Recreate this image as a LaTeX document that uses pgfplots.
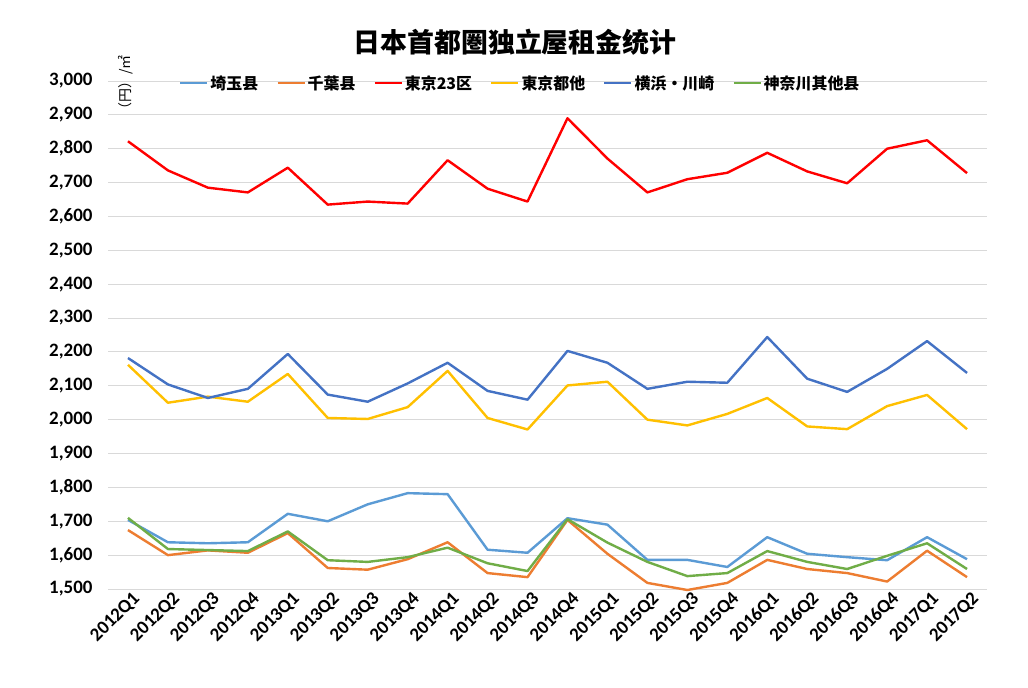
\documentclass[border=0pt]{standalone}
\usepackage{fontspec}
\usepackage{pgfplots}
\pgfplotsset{compat=1.18}
\setmainfont{Carlito}
\newfontfamily\cjk{Noto Sans CJK SC}
\definecolor{cSaitama}{HTML}{5B9BD5}
\definecolor{cChiba}{HTML}{ED7D31}
\definecolor{cTokyo}{HTML}{FF0000}
\definecolor{cTokyoO}{HTML}{FFC000}
\definecolor{cYoko}{HTML}{4472C4}
\definecolor{cKana}{HTML}{70AD47}
\definecolor{gridc}{HTML}{D9D9D9}
\begin{document}
\begin{tikzpicture}
\path[use as bounding box, fill=white] (0,0) rectangle (1028bp,688bp);
\begin{axis}[
  at={(108bp,99bp)}, anchor=south west,
  width=879bp, height=508bp, scale only axis,
  xmin=-0.5, xmax=21.5, ymin=1500, ymax=3000,
  clip=false,
  axis line style={draw=none},
  major tick length=0pt,
  ytick={1500,1600,...,3000},
  ymajorgrids, grid style={gridc, line width=0.9bp},
  xtick={0,...,21},
  xticklabels={2012Q1,2012Q2,2012Q3,2012Q4,2013Q1,2013Q2,2013Q3,2013Q4,2014Q1,2014Q2,2014Q3,2014Q4,2015Q1,2015Q2,2015Q3,2015Q4,2016Q1,2016Q2,2016Q3,2016Q4,2017Q1,2017Q2},
  xticklabel style={rotate=45, anchor=east, font=\bfseries\fontsize{19}{19}\selectfont, xshift=5bp, yshift=-11bp},
  yticklabel style={font=\bfseries\fontsize{19}{19}\selectfont, xshift=-12bp},
  /pgf/number format/assume math mode=true,
  /pgf/number format/1000 sep={,},
  scaled y ticks=false,
  legend columns=6,
  legend style={draw=none, fill=none, at={(0.469,0.996)}, anchor=center,
    font=\cjk\bfseries\fontsize{16}{16}\selectfont,
    /tikz/every even column/.append style={column sep=16bp}},
  legend image code/.code={\draw[#1, line width=2.4bp] (0bp,0bp) -- (27bp,0bp);},
  every axis plot/.append style={line width=2.4bp, line join=round},
]
\addplot[cSaitama] coordinates {(0,1704)(1,1638)(2,1635)(3,1638)(4,1722)(5,1700)(6,1750)(7,1783)(8,1780)(9,1616)(10,1607)(11,1709)(12,1690)(13,1586)(14,1586)(15,1565)(16,1653)(17,1604)(18,1594)(19,1585)(20,1653)(21,1588)};
\addlegendentry{埼玉县}
\addplot[cChiba] coordinates {(0,1674)(1,1600)(2,1614)(3,1607)(4,1665)(5,1562)(6,1557)(7,1588)(8,1638)(9,1547)(10,1535)(11,1704)(12,1604)(13,1518)(14,1497)(15,1518)(16,1586)(17,1559)(18,1547)(19,1522)(20,1613)(21,1535)};
\addlegendentry{千葉县}
\addplot[cTokyo] coordinates {(0,2822)(1,2736)(2,2685)(3,2671)(4,2744)(5,2635)(6,2644)(7,2638)(8,2766)(9,2682)(10,2644)(11,2890)(12,2771)(13,2671)(14,2710)(15,2729)(16,2788)(17,2733)(18,2698)(19,2800)(20,2825)(21,2728)};
\addlegendentry{東京23区}
\addplot[cTokyoO] coordinates {(0,2162)(1,2050)(2,2068)(3,2053)(4,2135)(5,2005)(6,2002)(7,2037)(8,2144)(9,2005)(10,1971)(11,2101)(12,2112)(13,2000)(14,1983)(15,2017)(16,2064)(17,1980)(18,1972)(19,2040)(20,2073)(21,1972)};
\addlegendentry{東京都他}
\addplot[cYoko] coordinates {(0,2182)(1,2104)(2,2064)(3,2091)(4,2194)(5,2074)(6,2053)(7,2107)(8,2168)(9,2085)(10,2059)(11,2203)(12,2168)(13,2091)(14,2112)(15,2109)(16,2244)(17,2121)(18,2082)(19,2150)(20,2232)(21,2138)};
\addlegendentry{横浜・川崎}
\addplot[cKana] coordinates {(0,1710)(1,1618)(2,1615)(3,1612)(4,1670)(5,1585)(6,1580)(7,1594)(8,1622)(9,1576)(10,1553)(11,1706)(12,1637)(13,1580)(14,1538)(15,1547)(16,1612)(17,1580)(18,1559)(19,1598)(20,1635)(21,1559)};
\addlegendentry{神奈川其他县}
\end{axis}
\node[font=\cjk\bfseries\fontsize{27}{27}\selectfont] at (515bp,646bp) {日本首都圏独立屋租金统计};
\node[rotate=90, font=\cjk\fontsize{14}{14}\selectfont] at (126bp,602bp) {（円）/㎡};
\end{tikzpicture}
\end{document}
